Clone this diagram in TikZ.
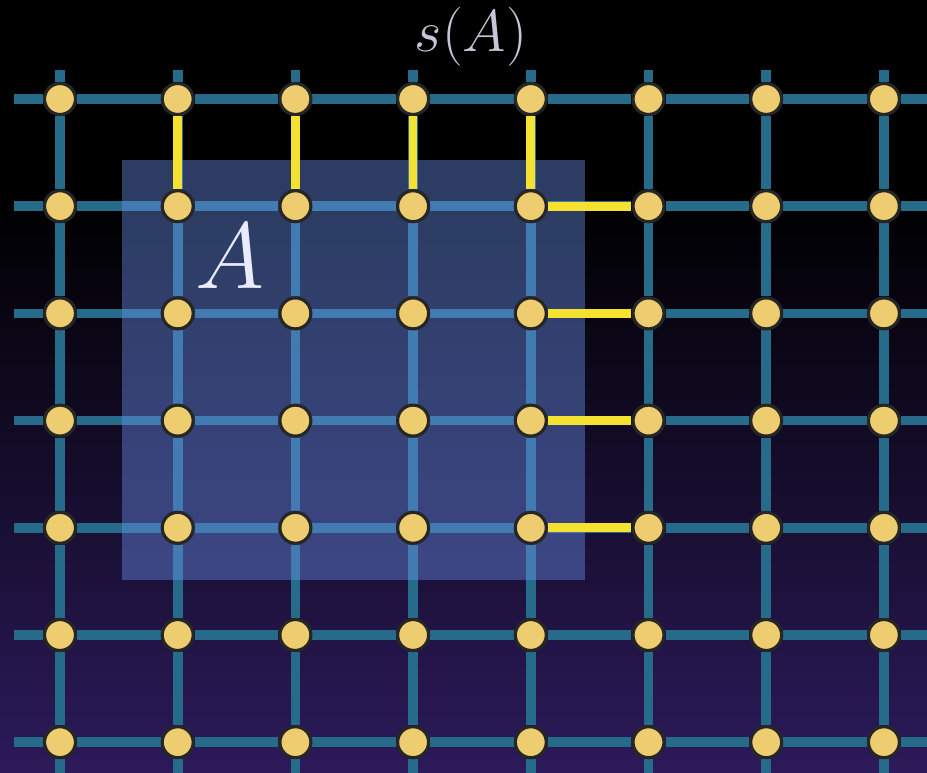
\documentclass[tikz,border=0pt]{standalone}
\usepackage{amsmath,amssymb}
\usepackage{graphicx}
\usepackage{tikz}
\usetikzlibrary{positioning,calc}
\usepackage{xcolor}

\definecolor{gridteal}{RGB}{38,108,138}
\definecolor{dotgold}{RGB}{238,205,112}
\definecolor{edgeyellow}{RGB}{245,226,48}
\definecolor{setblue}{RGB}{105,145,235}
\definecolor{bgpurple}{RGB}{44,26,90}
\definecolor{labelgrey}{RGB}{200,195,215}

\pgfdeclarelayer{background}
\pgfdeclarelayer{middle}
\pgfsetlayers{background,middle,main}

\begin{document}
\begin{tikzpicture}[x=0.02cm, y=-0.02cm,
  dot/.style={circle, fill=dotgold, draw=black!85, line width=1.8pt, minimum size=0.62cm, inner sep=0pt},
  lattice/.style={draw=gridteal, line width=5.5pt},
  flip/.style={draw=edgeyellow, line width=5pt}]

  \useasboundingbox (0,0) rectangle (927,773);

  % Define the lattice sites
  \foreach \i in {0,...,7}
    \foreach \j in {0,...,6}
      \node[dot] (n\i\j) at ({60+117.7*\i}, {99+107.2*\j}) {};

  % Free ends of the lattice lines
  \foreach \i in {0,...,7} {
    \coordinate (top\i) at ({60+117.7*\i}, 70);
    \coordinate (bot\i) at ({60+117.7*\i}, 773);
  }
  \foreach \j in {0,...,6} {
    \coordinate (lft\j) at (14, {99+107.2*\j});
    \coordinate (rgt\j) at (927, {99+107.2*\j});
  }

  % Background and lattice lines
  \begin{pgfonlayer}{background}
    \fill[black] (0,0) rectangle (927,201);
    \shade[top color=black, bottom color=bgpurple] (0,200) rectangle (927,773);
    \foreach \i in {0,...,7} {
      \draw[lattice] (top\i) -- (n\i0);
      \draw[lattice] (n\i6) -- (bot\i);
      \foreach \j [evaluate=\j as \k using int(\j+1)] in {0,...,5}
        \draw[lattice] (n\i\j) -- (n\i\k);
    }
    \foreach \j in {0,...,6} {
      \draw[lattice] (lft\j) -- (n0\j);
      \draw[lattice] (n7\j) -- (rgt\j);
      \foreach \i [evaluate=\i as \k using int(\i+1)] in {0,...,6}
        \draw[lattice] (n\i\j) -- (n\k\j);
    }
  \end{pgfonlayer}

  % The set A
  \begin{pgfonlayer}{middle}
    \fill[setblue, fill opacity=0.42] (122,160) rectangle (585,580);
  \end{pgfonlayer}

  % Boundary edges s(A)
  \foreach \i in {1,...,4}
    \draw[flip] (n\i0) -- (n\i1);
  \foreach \j in {1,...,4}
    \draw[flip] (n4\j) -- (n5\j);

  % Labels
  \node[text=labelgrey, font=\Huge] (sA) at (471,37) {\scalebox{1.35}{$s(A)$}};
  \node[text=white!92!blue, font=\Huge] (lblA) at (230,256) {\scalebox{2.15}{$A$}};
\end{tikzpicture}
\end{document}
